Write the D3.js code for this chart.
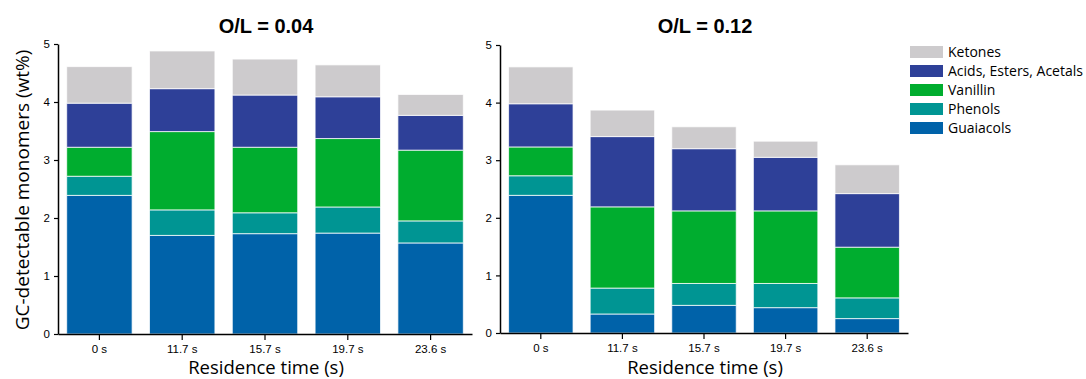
<!DOCTYPE html>
<html>
<head>
<meta charset="utf-8">
<script src="https://cdn.jsdelivr.net/npm/d3@7"></script>
<style>
  html, body { margin: 0; padding: 0; background: #fff; }
  svg { display: block; }
</style>
</head>
<body>
<svg id="chart" width="1086" height="379"></svg>
<script>
// Residence times (x categories)
const times = ["0 s", "11.7 s", "15.7 s", "19.7 s", "23.6 s"];

// Compound classes, bottom to top of each stack
const classes = ["Guaiacols", "Phenols", "Vanillin", "Acids, Esters, Acetals", "Ketones"];

// O/L = 0.04 — segment heights (wt%)
const guaiacols004 = [2.39, 1.70, 1.73, 1.74, 1.57];
const phenols004   = [0.33, 0.44, 0.36, 0.45, 0.38];
const vanillin004  = [0.50, 1.35, 1.13, 1.18, 1.22];
const acids004     = [0.76, 0.74, 0.90, 0.72, 0.60];
const ketones004   = [0.63, 0.65, 0.62, 0.55, 0.36];

// O/L = 0.12 — segment heights (wt%)
const guaiacols012 = [2.39, 0.33, 0.48, 0.44, 0.25];
const phenols012   = [0.34, 0.45, 0.38, 0.42, 0.36];
const vanillin012  = [0.50, 1.41, 1.26, 1.26, 0.88];
const acids012     = [0.75, 1.22, 1.08, 0.93, 0.93];
const ketones012   = [0.64, 0.46, 0.38, 0.28, 0.50];

const yTicks = [0, 1, 2, 3, 4, 5];

const colors = {
  "Guaiacols": "#0062a9",
  "Phenols": "#009593",
  "Vanillin": "#00ad2f",
  "Acids, Esters, Acetals": "#2e4098",
  "Ketones": "#cdcbcd"
};

function buildRows(series) {
  return times.map((t, i) => {
    const row = { time: t };
    classes.forEach((c, k) => { row[c] = series[k][i]; });
    return row;
  });
}

const panels = [
  { title: "O/L = 0.04", rows: buildRows([guaiacols004, phenols004, vanillin004, acids004, ketones004]),
    x0: 58, x1: 472, yTop: 44, yBottom: 334, yLabel: true },
  { title: "O/L = 0.12", rows: buildRows([guaiacols012, phenols012, vanillin012, acids012, ketones012]),
    x0: 500, x1: 908, yTop: 45, yBottom: 333, yLabel: false }
];

const svg = d3.select("#chart");
const stack = d3.stack().keys(classes);

panels.forEach(p => {
  const g = svg.append("g");
  const x = d3.scaleBand().domain(times).range([p.x0, p.x1]).paddingInner(0.21).paddingOuter(0.105);
  const y = d3.scaleLinear().domain([0, 5]).range([p.yBottom, p.yTop]);

  const layers = stack(p.rows);
  g.selectAll("g.layer").data(layers).join("g")
    .attr("class", "layer")
    .attr("fill", d => colors[d.key])
    .selectAll("rect").data(d => d).join("rect")
    .attr("x", d => x(d.data.time))
    .attr("width", x.bandwidth())
    .attr("y", d => y(d[1]))
    .attr("height", d => y(d[0]) - y(d[1]))
    .attr("stroke", "rgba(255,255,255,0.75)")
    .attr("stroke-width", 1);

  // y axis
  const yAxis = g.append("g")
    .attr("transform", `translate(${p.x0},0)`)
    .call(d3.axisLeft(y).tickValues(yTicks).tickFormat(d3.format("d"))
      .tickSize(4).tickPadding(4).tickSizeOuter(0));
  yAxis.select(".domain").attr("stroke", "#000").attr("stroke-width", 1.5);
  yAxis.selectAll(".tick line").attr("stroke", "#000").attr("stroke-width", 1.2);
  yAxis.selectAll("text").attr("font-family", "Liberation Sans, Arial, sans-serif")
    .attr("font-size", 11.5).attr("fill", "#000");

  // x axis
  const xAxis = g.append("g")
    .attr("transform", `translate(0,${p.yBottom})`)
    .call(d3.axisBottom(x).tickSize(6).tickPadding(5).tickSizeOuter(0));
  xAxis.select(".domain").attr("stroke", "#000").attr("stroke-width", 1.5);
  xAxis.selectAll(".tick line").attr("stroke", "#000").attr("stroke-width", 1.2);
  xAxis.selectAll("text").attr("font-family", "Liberation Sans, Arial, sans-serif")
    .attr("font-size", 11.5).attr("fill", "#000");

  const cx = (p.x0 + p.x1) / 2 + 1;

  // panel title
  g.append("text")
    .attr("x", cx).attr("y", 33)
    .attr("text-anchor", "middle")
    .attr("font-family", "Liberation Sans, Arial, sans-serif")
    .attr("font-weight", "bold").attr("font-size", 20)
    .text(p.title);

  // x axis title
  g.append("text")
    .attr("x", cx).attr("y", 374)
    .attr("text-anchor", "middle")
    .attr("font-family", "Open Sans, sans-serif")
    .attr("font-size", 18.5)
    .text("Residence time (s)");

  if (p.yLabel) {
    g.append("text")
      .attr("transform", `translate(29,${(p.yTop + p.yBottom) / 2 + 1}) rotate(-90)`)
      .attr("text-anchor", "middle")
      .attr("font-family", "Open Sans, sans-serif")
      .attr("font-size", 19)
      .text("GC-detectable monomers (wt%)");
  }
});

// legend, top entry is the top of the stack
const legendItems = classes.slice().reverse();
const legend = svg.append("g").attr("transform", "translate(910,46)");
const li = legend.selectAll("g").data(legendItems).join("g")
  .attr("transform", (d, i) => `translate(0,${i * 19})`);
li.append("rect").attr("width", 33).attr("height", 12).attr("fill", d => colors[d]);
li.append("text")
  .attr("x", 38).attr("y", 11)
  .attr("font-family", "Open Sans, sans-serif")
  .attr("font-size", 14)
  .text(d => d);
</script>
</body>
</html>
